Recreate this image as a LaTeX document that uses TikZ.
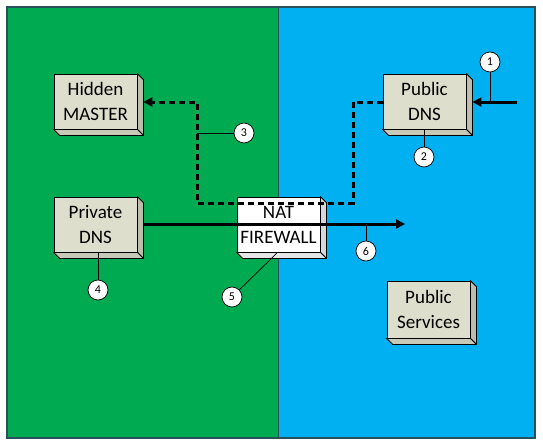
\documentclass[tikz,border=0pt]{standalone}
\usepackage{fontspec}
\setmainfont{Carlito}
\usetikzlibrary{arrows.meta,calc}
\definecolor{grn}{RGB}{0,170,80}
\definecolor{blu}{RGB}{0,176,240}
\definecolor{frame}{RGB}{40,80,90}
\definecolor{boxfill}{RGB}{221,222,204}
\definecolor{boxright}{RGB}{188,189,170}
\definecolor{boxbottom}{RGB}{200,201,182}
\definecolor{natright}{RGB}{215,215,215}
\definecolor{natbottom}{RGB}{230,230,230}
\tikzset{
  cube/.style={draw=black, line width=0.8pt, fill=boxfill, minimum width=83pt, minimum height=55pt,
    inner sep=0pt, align=center, font=\fontsize{19}{25}\selectfont},
  callout/.style={circle, draw=black, line width=0.7pt, fill=white, minimum size=20pt, inner sep=0pt,
    font=\fontsize{12}{13}\selectfont},
  leader/.style={draw=black, line width=0.7pt},
  flow/.style={draw=black, line width=3pt, -{Triangle[length=9pt,width=9pt]}},
  dflow/.style={draw=black, line width=3pt, dash pattern=on 6pt off 4pt, -{Triangle[length=9pt,width=9pt]}},
  face/.style={draw=black, line width=0.8pt, line join=round}
}
\newcommand{\cubeside}[3]{%
  \path[face, fill=#2] (#1.north east) -- ++(6pt,-6pt) -- ($(#1.south east)+(6pt,-6pt)$) -- (#1.south east) -- cycle;
  \path[face, fill=#3] (#1.south west) -- (#1.south east) -- ++(6pt,-6pt) -- ($(#1.south west)+(6pt,-6pt)$) -- cycle;
}
\begin{document}
\begin{tikzpicture}[x=1pt,y=-1pt]
\useasboundingbox (0,0) rectangle (543,447);
% zones
\fill[grn] (7,7) rectangle (278,438);
\fill[blu] (278,7) rectangle (535,438);
\draw[frame, line width=1.2pt] (7,7) rectangle (535,438);
\draw[frame, line width=1pt] (278,7) -- (278,438);

% boxes
\node[cube] (hid) at (95.5,101.5) {Hidden\\MASTER};
\cubeside{hid}{boxright}{boxbottom}
\node[cube] (pub) at (424.5,101.5) {Public\\DNS};
\cubeside{pub}{boxright}{boxbottom}
\node[cube] (prv) at (95.5,224.5) {Private\\DNS};
\cubeside{prv}{boxright}{boxbottom}
\node[cube, minimum height=57pt] (svc) at (428.5,309.5) {Public\\Services};
\cubeside{svc}{boxright}{boxbottom}
\node[cube, fill=white] (nat) at (278.5,224.5) {NAT\\FIREWALL};
\cubeside{nat}{natright}{natbottom}

% connectors
\coordinate (in1) at (517,102);
\draw[flow] (in1) -- ([xshift=6pt]pub.east |- in1);
\draw[dflow] (pub.west |- in1) -- (353,102) -- (353,203) -- (197,203) -- (197,102) -- ([xshift=6pt]hid.east |- in1);
\coordinate (out6) at (405,224);
\draw[flow] ([xshift=6pt]prv.east |- out6) -- (out6);

% callouts
\node[callout] (c1) at (490,62) {1};
\draw[leader] (c1) -- (490,102);
\node[callout] (c2) at (424,157) {2};
\draw[leader] (c2) -- (pub.south -| c2);
\node[callout] (c3) at (244,133) {3};
\draw[leader] (c3) -- (197,133);
\node[callout] (c4) at (98,290) {4};
\draw[leader] (c4) -- (prv.south -| c4);
\node[callout] (c5) at (232,297) {5};
\draw[leader] (c5) -- (277,253);
\node[callout] (c6) at (366,251) {6};
\draw[leader] (c6) -- (366,224);
\end{tikzpicture}
\end{document}
